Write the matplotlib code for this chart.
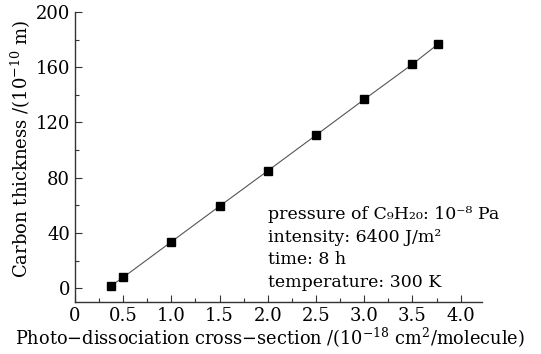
import matplotlib
matplotlib.use("Agg")
import matplotlib.pyplot as plt
from matplotlib.ticker import MultipleLocator

plt.rcParams['font.family'] = ['DejaVu Serif']
plt.rcParams['mathtext.fontset'] = 'dejavuserif'

cross_section = [0.375, 0.5, 1.0, 1.5, 2.0, 2.5, 3.0, 3.5, 3.77]
thickness = [1.8, 7.8, 33.6, 59.4, 85.0, 110.8, 136.7, 162.2, 177.0]
x_ticks = [0, 0.5, 1.0, 1.5, 2.0, 2.5, 3.0, 3.5, 4.0]
x_tick_labels = ["0", "0.5", "1.0", "1.5", "2.0", "2.5", "3.0", "3.5", "4.0"]
y_ticks = [0, 40, 80, 120, 160, 200]
info_lines = [
    "pressure of C\u2089H\u2082\u2080: 10\u207b\u2078 Pa",
    "intensity: 6400 J/m\u00b2",
    "time: 8 h",
    "temperature: 300 K",
]

W, H = 541, 354
fig = plt.figure(figsize=(5.41, 3.54), dpi=100)
ax = fig.add_axes([0.1386, 0.147, 0.752, 0.819])
ax.plot(cross_section, thickness, color='#555555', lw=0.8,
        marker='s', markersize=5.5, markerfacecolor='black', markeredgecolor='black')
ax.set_xlim(0, 4.22)
ax.set_ylim(-10, 200)
ax.set_xticks(x_ticks)
ax.set_xticklabels(x_tick_labels)
ax.set_yticks(y_ticks)
ax.xaxis.set_minor_locator(MultipleLocator(0.25))
ax.yaxis.set_minor_locator(MultipleLocator(20))
ax.tick_params(which='both', direction='in', labelsize=13, color='#333333')
ax.tick_params(which='major', length=5, width=0.8)
ax.tick_params(which='minor', length=3, width=0.8)
ax.spines['top'].set_visible(False)
ax.spines['right'].set_visible(False)
for s in ('left', 'bottom'):
    ax.spines[s].set_linewidth(1.0)
    ax.spines[s].set_color('#333333')
ax.set_xlabel(r"Photo$-$dissociation cross$-$section /(10$^{-18}$ cm$^2$/molecule)", fontsize=12.8)
ax.set_ylabel(r"Carbon thickness /(10$^{-10}$ m)", fontsize=13)
ax.xaxis.set_label_coords(0.479, -0.083)
ax.yaxis.set_label_coords(-0.104, 0.53)

baselines = [219, 242, 264, 287]
for line, yb in zip(info_lines, baselines):
    fig.text(268 / W, 1 - yb / H, line, fontsize=12.5, va='baseline', ha='left')

fig.savefig("out.png", dpi=100, facecolor='white')
